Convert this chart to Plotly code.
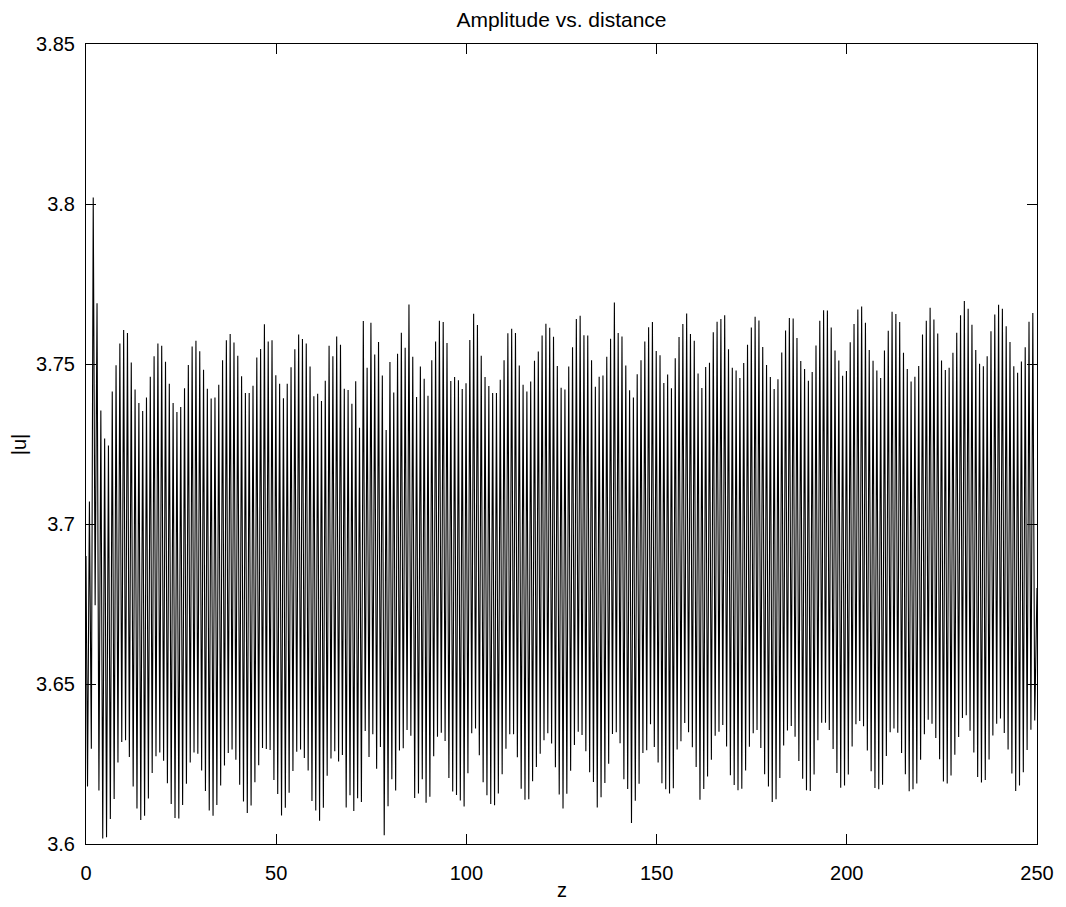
import numpy as np
import plotly.graph_objects as go

# Start / end samples of |u|
z_first, u_first = 0.0, 3.69
z_last, u_last = 250.0, 3.68

# Local maxima of |u| (one per unit of z, starting near z = 0.9)
peaks = [
    3.707,
    3.802, 3.769, 3.7355, 3.7267, 3.7245, 3.7414, 3.7496, 3.7564, 3.7606, 3.7597,
    3.7505, 3.742, 3.7378, 3.7353, 3.7395, 3.746, 3.7524, 3.7564, 3.7557, 3.7507,
    3.7438, 3.7378, 3.735, 3.7366, 3.7424, 3.7497, 3.7555, 3.7573, 3.754, 3.7482,
    3.7423, 3.7392, 3.7395, 3.7435, 3.7512, 3.7574, 3.7594, 3.7567, 3.7526, 3.7462,
    3.7409, 3.7409, 3.7432, 3.752, 3.7547, 3.7624, 3.757, 3.7574, 3.7465, 3.7438,
    3.7393, 3.7438, 3.749, 3.7546, 3.7592, 3.7578, 3.7564, 3.7492, 3.7399, 3.7407,
    3.7384, 3.7448, 3.7557, 3.7524, 3.7586, 3.756, 3.7423, 3.7419, 3.7376, 3.7446,
    3.7301, 3.7634, 3.7488, 3.7629, 3.753, 3.7569, 3.7464, 3.7294, 3.7506, 3.7411,
    3.7532, 3.7598, 3.7551, 3.7686, 3.7523, 3.7397, 3.7492, 3.7454, 3.7401, 3.7512,
    3.757, 3.7635, 3.7631, 3.7566, 3.7447, 3.7459, 3.7449, 3.7422, 3.744,
    3.7575, 3.7657, 3.7622, 3.7526, 3.7459, 3.7431, 3.7409, 3.7409, 3.7451, 3.7512,
    3.7596, 3.761, 3.7597, 3.7495, 3.7435, 3.7414, 3.7445, 3.751, 3.7539, 3.7589,
    3.7626, 3.7613, 3.7585, 3.7494, 3.7426, 3.742, 3.7492, 3.7552, 3.7641, 3.7651,
    3.759, 3.7589, 3.7512, 3.7429, 3.746, 3.7464, 3.7523, 3.7579, 3.7692, 3.7597,
    3.7586, 3.7495, 3.7418, 3.7395, 3.7468, 3.7512, 3.757, 3.7615, 3.7631, 3.7541,
    3.7527, 3.7441, 3.7467, 3.7424, 3.7518, 3.7584, 3.7625, 3.7658, 3.7594, 3.7573,
    3.747, 3.7425, 3.7491, 3.7504, 3.7599, 3.7632, 3.7641, 3.7652, 3.7546, 3.7488,
    3.748, 3.7456, 3.7503, 3.756, 3.7614, 3.7648, 3.7636, 3.7553, 3.7497, 3.7459,
    3.7422, 3.7452, 3.7536, 3.7605, 3.7644, 3.7642, 3.7581, 3.7509, 3.7484, 3.7448,
    3.7475, 3.7558, 3.7635, 3.7668, 3.7667, 3.7614, 3.7542, 3.7511, 3.7463, 3.7478,
    3.7568, 3.7625, 3.767, 3.768, 3.7629, 3.7544, 3.751, 3.748, 3.7456, 3.7542,
    3.7604, 3.7663, 3.7656, 3.7631, 3.7535, 3.7484, 3.7445, 3.746, 3.7494, 3.7592,
    3.7635, 3.7676, 3.7639, 3.7595, 3.7511, 3.7481, 3.7488, 3.7535, 3.7598, 3.7652,
    3.7697, 3.7673, 3.7623, 3.7544, 3.7501, 3.7493, 3.7524, 3.7602, 3.7655, 3.7685,
    3.7673, 3.7618, 3.7569, 3.7493, 3.7473, 3.7508, 3.7552, 3.7632, 3.7659,
]

# Local minima of |u| (one per unit of z, starting near z = 0.4)
troughs = [
    3.618, 3.6298, 3.6746, 3.6167, 3.6017, 3.6021, 3.6078, 3.6141, 3.6255, 3.6319,
    3.6324, 3.6272, 3.618, 3.6111, 3.6075, 3.6088, 3.6142, 3.6222, 3.6274, 3.6286,
    3.626, 3.619, 3.6125, 3.6081, 3.608, 3.6122, 3.6188, 3.6255, 3.6286, 3.6282,
    3.623, 3.6166, 3.6105, 3.6088, 3.6122, 3.6183, 3.6245, 3.6284, 3.6295, 3.6263,
    3.6185, 3.6133, 3.6097, 3.612, 3.6193, 3.6246, 3.63, 3.6297, 3.6294, 3.62,
    3.6156,
    3.6089, 3.6113, 3.616, 3.6228, 3.6288, 3.6295, 3.6269, 3.623, 3.6134, 3.6105,
    3.6073, 3.6113, 3.6213, 3.6267, 3.629, 3.6258, 3.6278, 3.6114, 3.6152, 3.6103,
    3.6143, 3.6131, 3.6353, 3.6272, 3.6343, 3.6235, 3.6303, 3.6027, 3.6118, 3.6202,
    3.6167, 3.6292, 3.6299, 3.6356, 3.6338, 3.6144, 3.6158, 3.6202, 3.6129, 3.6148,
    3.6274, 3.6335, 3.6348, 3.6322, 3.6206, 3.6164, 3.6153, 3.6136, 3.6117,
    3.6221, 3.6346, 3.6361, 3.6277, 3.6193, 3.6152, 3.6125, 3.6121, 3.6158, 3.6218,
    3.6298, 3.6343, 3.6343, 3.6271, 3.6173, 3.6138, 3.614, 3.6196, 3.6241, 3.6282,
    3.6324, 3.6346, 3.6314, 3.624, 3.6155, 3.6111, 3.6157, 3.6229, 3.6309, 3.6351,
    3.6341, 3.629, 3.6224, 3.6194, 3.6114, 3.6146, 3.6191, 3.6251, 3.6344, 3.6349,
    3.6315, 3.6202, 3.6172, 3.6066, 3.6135, 3.6188, 3.6284, 3.6293, 3.6374, 3.6303,
    3.6255,
    3.619, 3.6171, 3.6158, 3.6174, 3.6295, 3.6321, 3.6378, 3.6349, 3.6302, 3.6241,
    3.6138, 3.6172, 3.6211, 3.6263, 3.6338, 3.6351, 3.6372, 3.6305, 3.6215, 3.6184,
    3.6168, 3.6173, 3.623, 3.6304, 3.6346, 3.6356, 3.63, 3.6218, 3.618, 3.6131,
    3.614, 3.6206, 3.6308, 3.6355, 3.6369, 3.6335, 3.6259, 3.6204, 3.6168, 3.6166,
    3.6217, 3.6324, 3.6379, 3.6379, 3.6356, 3.6297, 3.6222, 3.6176, 3.6183,
    3.6217, 3.6305, 3.6374, 3.6384, 3.6368, 3.6292, 3.6227, 3.6175, 3.6171, 3.6185,
    3.6275, 3.6349, 3.6361, 3.6348, 3.6284, 3.6218, 3.6165, 3.6171, 3.6189, 3.6263,
    3.6343, 3.6388, 3.6376, 3.6331, 3.6265, 3.6195, 3.6189, 3.6214, 3.6279, 3.6334,
    3.6394, 3.6402, 3.6354, 3.6286, 3.6209, 3.6192, 3.62, 3.6264, 3.6339, 3.6376,
    3.6392, 3.6347, 3.6295, 3.622, 3.6166, 3.6183, 3.6224, 3.6294, 3.6357, 3.6386,
]

z_trough0 = 0.4      # z of first minimum
z_step = 0.5         # half period between alternating extrema

x_ticks = [0, 50, 100, 150, 200, 250]
y_ticks = [3.6, 3.65, 3.7, 3.75, 3.8, 3.85]
y_tick_labels = ["3.6", "3.65", "3.7", "3.75", "3.8", "3.85"]

# interleave minima and maxima: trough, peak, trough, ..., trough
u_ext = []
for i, t in enumerate(troughs):
    u_ext.append(t)
    if i < len(peaks):
        u_ext.append(peaks[i])
z_ext = z_trough0 + z_step * np.arange(len(u_ext))

z = np.concatenate([[z_first], z_ext, [z_last]])
u = np.concatenate([[u_first], u_ext, [u_last]])

fig = go.Figure()
fig.add_trace(go.Scatter(x=z, y=u, mode="lines",
                         line=dict(color="black", width=1.1),
                         showlegend=False, hoverinfo="skip"))

font_family = "Liberation Sans, Arial, Helvetica, sans-serif"
axis_common = dict(showline=True, linecolor="black", linewidth=1, mirror="ticks",
                   ticks="inside", ticklen=10, tickwidth=1, tickcolor="black",
                   showgrid=False, zeroline=False,
                   tickfont=dict(family=font_family, size=20, color="black"))

fig.update_xaxes(range=[0, 250], tickvals=x_ticks, ticklabelstandoff=11,
                 **axis_common)
fig.update_yaxes(range=[3.6, 3.85], tickvals=y_ticks, ticktext=y_tick_labels,
                 ticklabelstandoff=6, **axis_common)

fig.update_layout(
    width=1058, height=899,
    margin=dict(l=78, r=26, t=36, b=63),
    paper_bgcolor="white", plot_bgcolor="white",
    title=dict(text="Amplitude vs. distance", x=0.5, xref="paper",
               y=1 - 11.5 / 899, yref="container", yanchor="middle",
               font=dict(family=font_family, size=21, color="black")),
    annotations=[
        dict(text="z", xref="paper", yref="paper", x=0.5, y=-46 / 800,
             xanchor="center", yanchor="middle", showarrow=False,
             font=dict(family=font_family, size=20, color="black")),
        dict(text="|u|", xref="paper", yref="paper", x=-67 / 954, y=0.5,
             xanchor="center", yanchor="middle", showarrow=False, textangle=-90,
             font=dict(family=font_family, size=20, color="black")),
    ],
)

fig.write_html("out.html")
